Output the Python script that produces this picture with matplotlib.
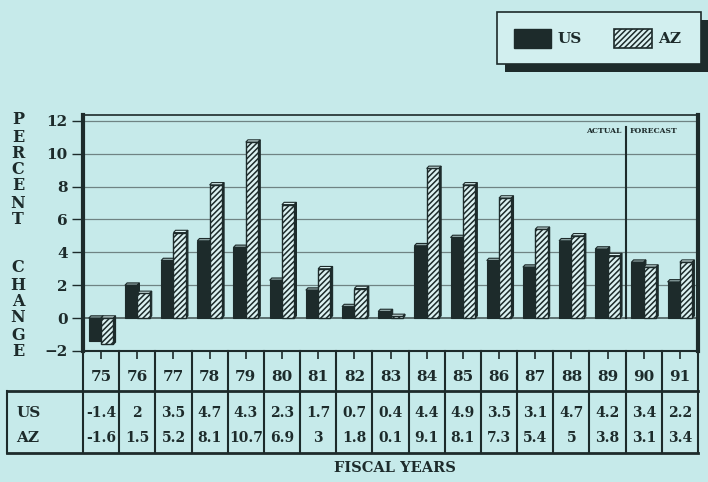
import matplotlib
matplotlib.use('Agg')
import matplotlib.pyplot as plt
from matplotlib.patches import Rectangle, Polygon
import numpy as np

annees = ['75', '76', '77', '78', '79', '80', '81', '82', '83',
          '84', '85', '86', '87', '88', '89', '90', '91']
us = [-1.4, 2, 3.5, 4.7, 4.3, 2.3, 1.7, 0.7, 0.4,
      4.4, 4.9, 3.5, 3.1, 4.7, 4.2, 3.4, 2.2]
az = [-1.6, 1.5, 5.2, 8.1, 10.7, 6.9, 3, 1.8, 0.1,
      9.1, 8.1, 7.3, 5.4, 5, 3.8, 3.1, 3.4]
us_txt = ['-1.4', '2', '3.5', '4.7', '4.3', '2.3', '1.7', '0.7', '0.4',
          '4.4', '4.9', '3.5', '3.1', '4.7', '4.2', '3.4', '2.2']
az_txt = ['-1.6', '1.5', '5.2', '8.1', '10.7', '6.9', '3', '1.8', '0.1',
          '9.1', '8.1', '7.3', '5.4', '5', '3.8', '3.1', '3.4']
y_ticks = [-2, 0, 2, 4, 6, 8, 10, 12]

FOND = '#c6eaea'
SOMBRE = '#1d2b2b'
CLAIR = '#dcf2f2'
plt.rcParams['hatch.linewidth'] = 1.1
plt.rcParams['hatch.color'] = SOMBRE
POLICE = 'DejaVu Serif'

W, H = 708, 482
fig = plt.figure(figsize=(W / 100, H / 100), dpi=100, facecolor=FOND)


def fx(px):
    return px / W


def fy(py):
    return 1 - py / H


# ---- graphique principal ----
ax = fig.add_axes([fx(83), fy(351), fx(698 - 83), fy(115) - fy(351)])
ax.set_facecolor(FOND)
ax.set_xlim(-0.5, len(annees) - 0.5)
ax.set_ylim(-2, 12.35)

x = np.arange(len(annees))
larg = 0.34
dx, dy = 0.06, 0.14  # profondeur 3D

for xi, val, style in [(x - larg / 2, us, 'us'), (x + larg / 2, az, 'az')]:
    for xc, v in zip(xi, val):
        x0, x1 = xc - larg / 2, xc + larg / 2
        haut = max(v, 0)
        # faces du dessus et de côté
        ax.add_patch(Polygon([(x0, haut), (x0 + dx, haut + dy), (x1 + dx, haut + dy), (x1, haut)],
                             closed=True, facecolor='#8fa5a5' if style == 'us' else CLAIR,
                             edgecolor=SOMBRE, lw=0.8, zorder=3))
        ax.add_patch(Polygon([(x1, min(v, 0)), (x1 + dx, min(v, 0) + dy), (x1 + dx, haut + dy), (x1, haut)],
                             closed=True, facecolor=SOMBRE, edgecolor=SOMBRE, lw=0.8, zorder=3))
        if style == 'us':
            ax.bar(xc, v, width=larg, color=SOMBRE, edgecolor=SOMBRE, lw=0.8, zorder=4)
        else:
            ax.bar(xc, v, width=larg, color=CLAIR, edgecolor=SOMBRE, hatch='//////', lw=1.0, zorder=4)

for g in y_ticks[2:]:
    ax.axhline(g, color='#6f8383', lw=0.9, zorder=1)
ax.axhline(0, color='#4a5a5a', lw=1.2, zorder=2)

ax.set_yticks(y_ticks)
ax.set_yticklabels([str(t) if t >= 0 else '\u2212' + str(-t) for t in y_ticks],
                   fontfamily=POLICE, fontweight='bold', fontsize=11, color=SOMBRE)
ax.set_xticks(x)
ax.set_xticklabels([])
ax.tick_params(axis='y', direction='out', length=8, width=1, pad=3, color=SOMBRE)
ax.tick_params(axis='x', direction='out', length=6, width=1.2, color=SOMBRE)
for cote, lw in [('left', 3), ('right', 3), ('top', 1.2), ('bottom', 1.5)]:
    ax.spines[cote].set_linewidth(lw)
    ax.spines[cote].set_color(SOMBRE)

# réel / prévision
ax.axvline(14.5, ymin=0.14, ymax=0.95, color=SOMBRE, lw=1.5, zorder=5)
ax.text(14.38, 11.4, 'ACTUAL', ha='right', va='center', fontsize=5.5,
        fontfamily=POLICE, fontweight='bold', color=SOMBRE)
ax.text(14.62, 11.4, 'FORECAST', ha='left', va='center', fontsize=5.5,
        fontfamily=POLICE, fontweight='bold', color=SOMBRE)

# ---- tableau ----
tb = fig.add_axes([fx(83), fy(453), fx(698 - 83), fy(351) - fy(453)])
tb.set_xlim(-0.5, len(annees) - 0.5)
tb.set_ylim(453, 351)
tb.axis('off')
tb.patch.set_alpha(0)
gauche = -0.5 - (83 - 7) / ((698 - 83) / len(annees))
for i in range(len(annees) + 1):
    tb.plot([i - 0.5, i - 0.5], [351, 453], color=SOMBRE, lw=1.5, clip_on=False)
tb.plot([gauche, len(annees) - 0.5], [391, 391], color=SOMBRE, lw=2, clip_on=False)
tb.plot([gauche, len(annees) - 0.5], [453, 453], color=SOMBRE, lw=2, clip_on=False)
tb.plot([gauche, gauche], [391, 453], color=SOMBRE, lw=1.5, clip_on=False)
for i, a in enumerate(annees):
    tb.text(i, 377, a, ha='center', va='center', fontsize=11,
            fontfamily=POLICE, fontweight='bold', color=SOMBRE)
    tb.text(i, 413, us_txt[i], ha='center', va='center', fontsize=10,
            fontfamily=POLICE, fontweight='bold', color=SOMBRE)
    tb.text(i, 438, az_txt[i], ha='center', va='center', fontsize=10,
            fontfamily=POLICE, fontweight='bold', color=SOMBRE)
tb.text(gauche + 0.25, 413, 'US', ha='left', va='center', fontsize=11,
        fontfamily=POLICE, fontweight='bold', color=SOMBRE, clip_on=False)
tb.text(gauche + 0.25, 438, 'AZ', ha='left', va='center', fontsize=11,
        fontfamily=POLICE, fontweight='bold', color=SOMBRE, clip_on=False)

fig.text(fx(395), fy(468), 'FISCAL YEARS', ha='center', va='center', fontsize=10.5,
         fontfamily=POLICE, fontweight='bold', color=SOMBRE)

# ---- titre vertical ----
for lettre, py in zip('PERCENT', [120, 137, 153, 169, 186, 203, 220]):
    fig.text(fx(18), fy(py), lettre, ha='center', va='center', fontsize=11.5,
             fontfamily=POLICE, fontweight='heavy', color=SOMBRE)
for lettre, py in zip('CHANGE', [268, 285, 301, 318, 335, 352]):
    fig.text(fx(18), fy(py), lettre, ha='center', va='center', fontsize=11.5,
             fontfamily=POLICE, fontweight='heavy', color=SOMBRE)

# ---- légende ----
fig.patches.append(Rectangle((fx(505), fy(72)), fx(708 - 505), fy(20) - fy(72),
                             transform=fig.transFigure, facecolor=SOMBRE, edgecolor='none'))
fig.patches.append(Rectangle((fx(497), fy(64)), fx(701 - 497), fy(12) - fy(64),
                             transform=fig.transFigure, facecolor='#d2efef', edgecolor=SOMBRE, lw=1.2))
fig.patches.append(Rectangle((fx(514), fy(48)), fx(37), fy(29) - fy(48),
                             transform=fig.transFigure, facecolor=SOMBRE, edgecolor=SOMBRE))
fig.patches.append(Rectangle((fx(614), fy(48)), fx(38), fy(29) - fy(48),
                             transform=fig.transFigure, facecolor=CLAIR, edgecolor=SOMBRE,
                             hatch='//////', lw=1.2))
fig.text(fx(558), fy(39), 'US', ha='left', va='center', fontsize=11,
         fontfamily=POLICE, fontweight='bold', color=SOMBRE)
fig.text(fx(658), fy(39), 'AZ', ha='left', va='center', fontsize=11,
         fontfamily=POLICE, fontweight='bold', color=SOMBRE)

fig.savefig('out.png', dpi=100, facecolor=FOND)
